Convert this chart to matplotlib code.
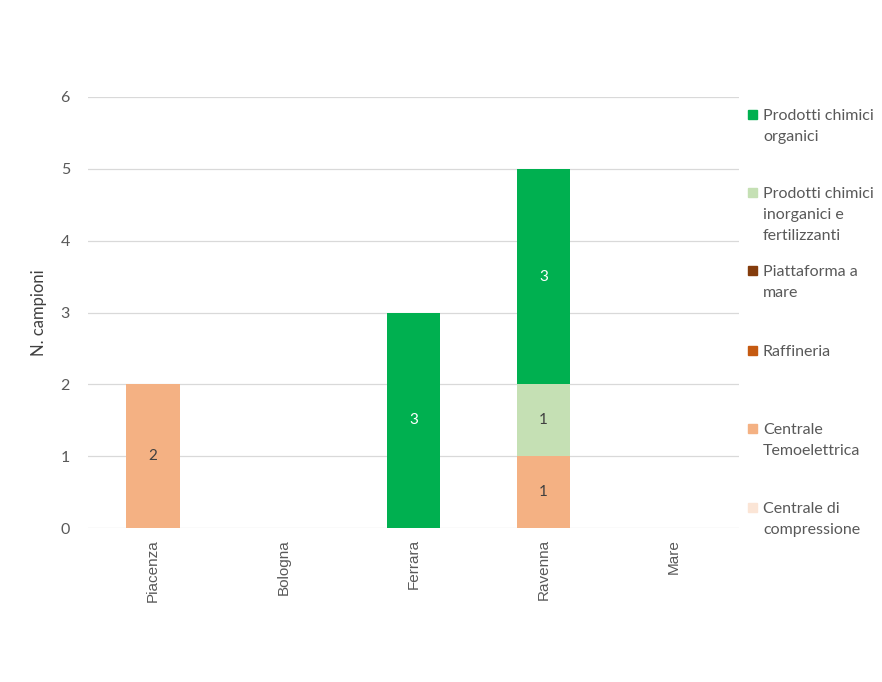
import matplotlib
matplotlib.use("Agg")
import matplotlib.pyplot as plt
from matplotlib.patches import Rectangle
import numpy as np

categories = ["Piacenza", "Bologna", "Ferrara", "Ravenna", "Mare"]
series_names = ["Prodotti chimici\norganici",
                "Prodotti chimici\ninorganici e\nfertilizzanti",
                "Piattaforma a\nmare",
                "Raffineria",
                "Centrale\nTemoelettrica",
                "Centrale di\ncompressione"]
series_values = {
    "organici":     [0, 0, 3, 3, 0],
    "inorganici":   [0, 0, 0, 1, 0],
    "piattaforma":  [0, 0, 0, 0, 0],
    "raffineria":   [0, 0, 0, 0, 0],
    "termo":        [2, 0, 0, 1, 0],
    "compressione": [0, 0, 0, 0, 0],
}
series_colors = ["#00B050", "#C5E0B4", "#843C0C", "#C55A11", "#F4B183", "#FBE5D6"]
label_colors = ["white", "#404040", "white", "white", "#404040", "#404040"]
yticks = [0, 1, 2, 3, 4, 5, 6]

W, H = 882, 682
fig = plt.figure(figsize=(W / 100, H / 100), dpi=100)
ax = fig.add_axes([88 / W, 1 - 528 / H, (739 - 88) / W, (528 - 97) / H])

keys = list(series_values.keys())
x = np.arange(len(categories))
bottom = np.zeros(len(categories))
# stack from bottom: reverse of legend order
for i in reversed(range(len(keys))):
    vals = np.array(series_values[keys[i]], dtype=float)
    bars = ax.bar(x, vals, 0.41, bottom=bottom, color=series_colors[i], zorder=3)
    labels = [f"{int(v)}" if v > 0 else "" for v in vals]
    ax.bar_label(bars, labels=labels, label_type="center", color=label_colors[i],
                 fontsize=11, family="Lato")
    bottom += vals

ax.set_xlim(-0.5, len(categories) - 0.5)
ax.set_ylim(0, 6)
ax.set_yticks(yticks)
ax.set_yticklabels([str(t) for t in yticks], family="Lato", fontsize=11.5, color="#595959")
ax.set_xticks(x)
ax.set_xticklabels(categories, rotation=90, family="Liberation Sans", fontsize=11, color="#595959")
ax.tick_params(axis="both", length=0)
ax.tick_params(axis="y", pad=13)
ax.tick_params(axis="x", pad=8)
ax.grid(axis="y", color="#D9D9D9", linewidth=0.9, zorder=0)
for s in ax.spines.values():
    s.set_visible(False)
ax.set_ylabel("N. campioni", family="Lato", fontsize=12, color="#404040", labelpad=10)

# legend drawn manually
sq = 9
legend_y = [114, 192, 270, 350, 428, 507]
for i, name in enumerate(series_names):
    cy = legend_y[i]
    fig.add_artist(Rectangle((748 / W, 1 - (cy + sq / 2) / H), sq / W, sq / H,
                             transform=fig.transFigure, color=series_colors[i]))
    fig.text(763 / W, 1 - (cy - 5) / H, name, ha="left", va="top",
             family="Lato", fontsize=11.5, color="#595959", linespacing=1.62)

fig.savefig("out.png", dpi=100)
